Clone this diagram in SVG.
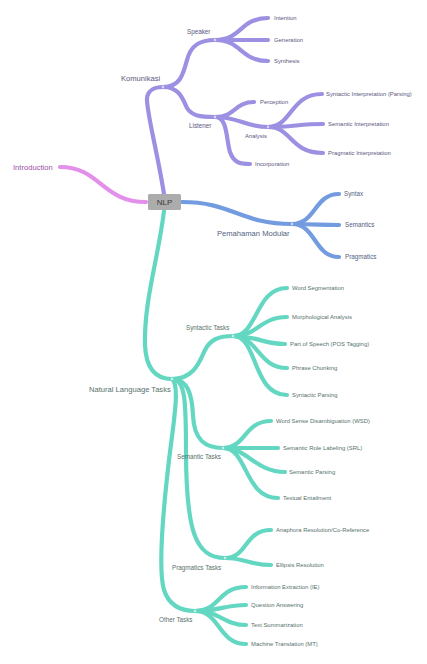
<svg xmlns="http://www.w3.org/2000/svg" width="427" height="664" viewBox="0 0 427 664">
<style>
text{font-family:"Liberation Sans",Arial,sans-serif}
.l{fill:none;stroke-width:4.2;stroke-linecap:round}
.p{stroke:#9b90e2}.b{stroke:#739be0}.t{stroke:#63d7c1}.k{stroke:#e290ea}
.tp{fill:#5a5780}.tb{fill:#52627f}.tt{fill:#56716c}.tk{fill:#9d4ea8}
.s1{font-size:7.6px}.s2{font-size:6.3px}.s3{font-size:5.9px}
.j{fill:#fff;stroke-width:0.8}
</style>
<rect width="427" height="664" fill="#fff"/>
<g id="connectors">
<path class="l k" d="M146,202 C102,202 100,167 60,167"/>
<path class="l p" d="M164,194 C157,150 146,110 147,98 C148,90 155,87 163,87"/>
<path class="l p" d="M163,87 C180,87 183,75 187,60 C191,45 200,40 215,40"/>
<path class="l p" d="M163,87 C180,87 183,100 187,108 C192,116 200,117 215,117"/>
<path class="l p" d="M215,40 C242,40 240,18 268,18"/>
<path class="l p" d="M215,40 L268,40"/>
<path class="l p" d="M215,40 C242,40 240,61 268,61"/>
<path class="l p" d="M215,117 C236,117 234,102 254,102"/>
<path class="l p" d="M215,117 C240,117 244,127 268,127"/>
<path class="l p" d="M215,117 C228,117 226,140 230,152 C234,163 240,164 250,164"/>
<path class="l p" d="M268,127 C292,127 290,94 322,94"/>
<path class="l p" d="M268,127 C292,127 300,124 323,124"/>
<path class="l p" d="M268,127 C292,127 290,153 323,153"/>
<path class="l b" d="M182,202 C232,202 240,224 292,224"/>
<path class="l b" d="M292,224 C316,224 314,194 339,194"/>
<path class="l b" d="M292,224 C316,224 320,225 339,225"/>
<path class="l b" d="M292,224 C316,224 314,257 339,257"/>
<path class="l t" d="M164,211 C158,260 144,300 145,345 C146,370 157,379 172,379"/>
<path class="l t" d="M172,379 C195,379 200,360 205,350 C210,340 218,336 233,336"/>
<path class="l t" d="M172,379 C188,379 192,395 193,415 C194,440 205,448 223,448"/>
<path class="l t" d="M172,379 C185,379 186,400 186,450 C186,530 195,558 225,558"/>
<path class="l t" d="M172,379 C180,385 174,420 169,460 C162,520 158,570 164,590 C169,605 180,611 195,611"/>
<path class="l t" d="M233,336 C258,336 255,288 287,288"/>
<path class="l t" d="M233,336 C258,336 260,317 287,317"/>
<path class="l t" d="M233,336 C258,336 262,344 285,344"/>
<path class="l t" d="M233,336 C258,336 258,368 287,368"/>
<path class="l t" d="M233,336 C258,336 252,395 287,395"/>
<path class="l t" d="M223,448 C246,448 244,421 271,421"/>
<path class="l t" d="M223,448 L278,448"/>
<path class="l t" d="M223,448 C248,448 255,472 285,472"/>
<path class="l t" d="M223,448 C248,448 244,498 278,498"/>
<path class="l t" d="M225,558 C248,558 244,530 271,530"/>
<path class="l t" d="M225,558 C245,558 250,565 271,565"/>
<path class="l t" d="M195,611 C220,611 218,587 246,587"/>
<path class="l t" d="M195,611 C220,611 224,605 246,605"/>
<path class="l t" d="M195,611 C220,611 224,625 246,625"/>
<path class="l t" d="M195,611 C220,611 218,644 246,644"/>
</g>
<g id="nlp">
<rect x="148" y="194" width="33" height="16" rx="1.5" fill="#acacac"/>
<text x="164.5" y="204.8" font-size="8" text-anchor="middle" fill="#3a3a3a">NLP</text>
</g>
<g id="introduction"><text class="tk s1" x="13" y="170">Introduction</text></g>
<g id="komunikasi"><circle class="j" cx="163" cy="87" r="1.4" stroke="#9b90e2"/><text class="tp s1" x="121" y="81">Komunikasi</text></g>
<g id="speaker"><circle class="j" cx="215" cy="40" r="1.4" stroke="#9b90e2"/><text class="tp s2" x="187" y="34">Speaker</text></g>
<g id="listener"><circle class="j" cx="215" cy="117" r="1.4" stroke="#9b90e2"/><text class="tp s2" x="189" y="128">Listener</text></g>
<g id="intention"><text class="tp s3" x="274" y="20">Intention</text></g>
<g id="generation"><text class="tp s3" x="274" y="42">Generation</text></g>
<g id="synthesis"><text class="tp s3" x="274" y="63">Synthesis</text></g>
<g id="perception"><text class="tp s3" x="260" y="104">Perception</text></g>
<g id="analysis"><circle class="j" cx="268" cy="127" r="1.4" stroke="#9b90e2"/><text class="tp s3" x="245" y="138">Analysis</text></g>
<g id="incorporation"><text class="tp s3" x="255" y="166">Incorporation</text></g>
<g id="syn-interp"><text class="tp s3" x="326" y="96">Syntactic Interpretation (Parsing)</text></g>
<g id="sem-interp"><text class="tp s3" x="328" y="126">Semantic Interpretation</text></g>
<g id="prag-interp"><text class="tp s3" x="328" y="155">Pragmatic Interpretation</text></g>
<g id="pemahaman"><circle class="j" cx="292" cy="224" r="1.4" stroke="#739be0"/><text class="tb s1" x="217" y="236">Pemahaman Modular</text></g>
<g id="syntax"><text class="tb s2" x="344" y="196">Syntax</text></g>
<g id="semantics"><text class="tb s2" x="345" y="227">Semantics</text></g>
<g id="pragmatics"><text class="tb s2" x="345" y="259">Pragmatics</text></g>
<g id="nlt"><circle class="j" cx="172" cy="379" r="1.4" stroke="#63d7c1"/><text class="tt s1" x="89" y="392">Natural Language Tasks</text></g>
<g id="syntactic-tasks"><circle class="j" cx="233" cy="336" r="1.4" stroke="#63d7c1"/><text class="tt s2" x="186" y="330">Syntactic Tasks</text></g>
<g id="semantic-tasks"><circle class="j" cx="223" cy="448" r="1.4" stroke="#63d7c1"/><text class="tt s2" x="177" y="459">Semantic Tasks</text></g>
<g id="pragmatics-tasks"><circle class="j" cx="225" cy="558" r="1.4" stroke="#63d7c1"/><text class="tt s2" x="172" y="570">Pragmatics Tasks</text></g>
<g id="other-tasks"><circle class="j" cx="195" cy="611" r="1.4" stroke="#63d7c1"/><text class="tt s2" x="159" y="622">Other Tasks</text></g>
<g id="word-seg"><text class="tt s3" x="292" y="290">Word Segmentation</text></g>
<g id="morph"><text class="tt s3" x="292" y="319">Morphological Analysis</text></g>
<g id="pos"><text class="tt s3" x="290" y="346">Part of Speech (POS Tagging)</text></g>
<g id="chunking"><text class="tt s3" x="292" y="370">Phrase Chunking</text></g>
<g id="syn-parsing"><text class="tt s3" x="292" y="397">Syntactic Parsing</text></g>
<g id="wsd"><text class="tt s3" x="276" y="423">Word Sense Disambiguation (WSD)</text></g>
<g id="srl"><text class="tt s3" x="283" y="450">Semantic Role Labeling (SRL)</text></g>
<g id="sem-parsing"><text class="tt s3" x="289" y="474">Semantic Parsing</text></g>
<g id="entailment"><text class="tt s3" x="283" y="500">Textual Entailment</text></g>
<g id="anaphora"><text class="tt s3" x="276" y="532">Anaphora Resolution/Co-Reference</text></g>
<g id="ellipsis"><text class="tt s3" x="276" y="567">Ellipsis Resolution</text></g>
<g id="ie"><text class="tt s3" x="251" y="589">Information Extraction (IE)</text></g>
<g id="qa"><text class="tt s3" x="251" y="607">Question Answering</text></g>
<g id="summ"><text class="tt s3" x="251" y="627">Text Summarization</text></g>
<g id="mt"><text class="tt s3" x="251" y="646">Machine Translation (MT)</text></g>
</svg>
